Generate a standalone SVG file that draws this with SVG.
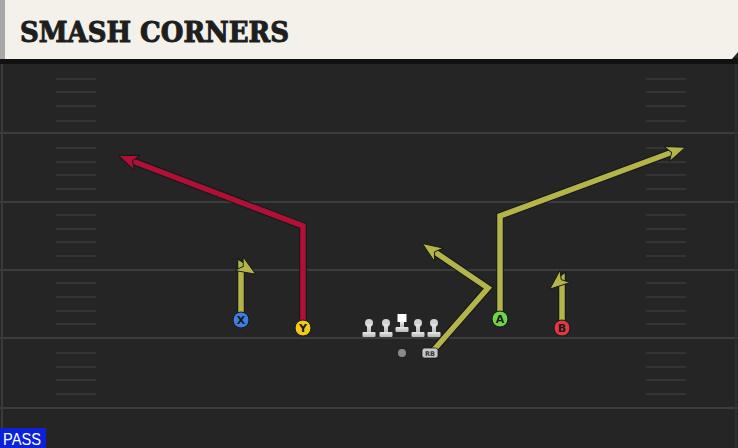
<svg xmlns="http://www.w3.org/2000/svg" width="738" height="448" viewBox="0 0 738 448">
<style>
.yl{stroke:#3c3c3c;stroke-width:2}
.hm{stroke:#343434;stroke-width:2}
.rt{fill:none;stroke-width:5.5;stroke-linejoin:miter;stroke-linecap:butt}
.ol{fill:none;stroke:#121818;stroke-width:7.5;stroke-linejoin:miter}
.olv{stroke:#b4b448}
.red{stroke:#b01035}
.lbl{font-family:"DejaVu Sans","Liberation Sans",sans-serif;font-weight:bold;font-size:11px;fill:#1a1a1a;text-anchor:middle}
.ln{fill:#d2d2d2}
</style>
<defs>
<marker id="ao" viewBox="0 0 10 10" refX="6" refY="5" markerWidth="20" markerHeight="20" orient="auto" markerUnits="userSpaceOnUse">
<path d="M0,1 L10,5 L0,9 L2.6,5 Z" fill="#b4b448" stroke="#121818" stroke-width="0.45" stroke-linejoin="miter"/>
</marker>
<marker id="ar" viewBox="0 0 10 10" refX="6" refY="5" markerWidth="20" markerHeight="20" orient="auto" markerUnits="userSpaceOnUse">
<path d="M0,1 L10,5 L0,9 L2.6,5 Z" fill="#b01035" stroke="#121818" stroke-width="0.45" stroke-linejoin="miter"/>
</marker>
<linearGradient id="lg" x1="0" y1="0" x2="0" y2="1">
<stop offset="0" stop-color="#e8e8e8"/><stop offset="1" stop-color="#b8b8b8"/>
</linearGradient>
</defs>
<rect x="0" y="0" width="738" height="448" fill="#252525"/>
<g id="field">
<line x1="0" y1="133" x2="738" y2="133" class="yl"/>
<line x1="0" y1="202" x2="738" y2="202" class="yl"/>
<line x1="0" y1="270" x2="738" y2="270" class="yl"/>
<line x1="0" y1="338" x2="738" y2="338" class="yl"/>
<line x1="0" y1="408" x2="738" y2="408" class="yl"/>
<line x1="2" y1="60" x2="2" y2="448" stroke="#3a3a3a" stroke-width="2"/>
<line x1="736" y1="60" x2="736" y2="448" stroke="#303030" stroke-width="2"/>
<g class="hm">
<line x1="56" y1="79" x2="96" y2="79"/><line x1="56" y1="92" x2="96" y2="92"/><line x1="56" y1="106" x2="96" y2="106"/><line x1="56" y1="121" x2="96" y2="121"/>
<line x1="56" y1="148" x2="96" y2="148"/><line x1="56" y1="162" x2="96" y2="162"/><line x1="56" y1="175" x2="96" y2="175"/><line x1="56" y1="189" x2="96" y2="189"/>
<line x1="56" y1="215" x2="96" y2="215"/><line x1="56" y1="229" x2="96" y2="229"/><line x1="56" y1="242" x2="96" y2="242"/><line x1="56" y1="256" x2="96" y2="256"/>
<line x1="56" y1="283" x2="96" y2="283"/><line x1="56" y1="297" x2="96" y2="297"/><line x1="56" y1="311" x2="96" y2="311"/><line x1="56" y1="324" x2="96" y2="324"/>
<line x1="56" y1="353" x2="96" y2="353"/><line x1="56" y1="367" x2="96" y2="367"/><line x1="56" y1="380" x2="96" y2="380"/><line x1="56" y1="394" x2="96" y2="394"/>
<line x1="646" y1="79" x2="686" y2="79"/><line x1="646" y1="92" x2="686" y2="92"/><line x1="646" y1="106" x2="686" y2="106"/><line x1="646" y1="121" x2="686" y2="121"/>
<line x1="646" y1="148" x2="686" y2="148"/><line x1="646" y1="162" x2="686" y2="162"/><line x1="646" y1="175" x2="686" y2="175"/><line x1="646" y1="189" x2="686" y2="189"/>
<line x1="646" y1="215" x2="686" y2="215"/><line x1="646" y1="229" x2="686" y2="229"/><line x1="646" y1="242" x2="686" y2="242"/><line x1="646" y1="256" x2="686" y2="256"/>
<line x1="646" y1="283" x2="686" y2="283"/><line x1="646" y1="297" x2="686" y2="297"/><line x1="646" y1="311" x2="686" y2="311"/><line x1="646" y1="324" x2="686" y2="324"/>
<line x1="646" y1="353" x2="686" y2="353"/><line x1="646" y1="367" x2="686" y2="367"/><line x1="646" y1="380" x2="686" y2="380"/><line x1="646" y1="394" x2="686" y2="394"/>
</g>
</g>
<g id="header">
<rect x="0" y="58" width="738" height="6" fill="#111111"/>
<path d="M0,0 L738,0 L738,52 L732,59 L0,59 Z" fill="#f4f1ea"/>
<rect x="0" y="0" width="5" height="59" fill="#a8a8a8"/>
<text x="20" y="42" font-family="'DejaVu Serif','Liberation Serif',serif" font-weight="bold" font-size="27" fill="#1e1e1e" stroke="#1e1e1e" stroke-width="1" textLength="269" lengthAdjust="spacingAndGlyphs">SMASH CORNERS</text>
</g>
<g id="connectors">
<path class="ol" d="M241,314 L241,265 L249,270"/>
<path class="rt olv" d="M241,314 L241,265 L249,270" marker-end="url(#ao)"/>
<path class="ol" d="M303,320 L303,226 L126,158.5"/>
<path class="rt red" d="M303,320 L303,226 L126,158.5" marker-end="url(#ar)"/>
<path class="ol" d="M500,313 L500,216 L678,150"/>
<path class="rt olv" d="M500,313 L500,216 L678,150" marker-end="url(#ao)"/>
<path class="ol" d="M562,321 L562,279 L556,284"/>
<path class="rt olv" d="M562,321 L562,279 L556,284" marker-end="url(#ao)"/>
<path class="ol" d="M432,352 L488,288 L429,248"/>
<path class="rt olv" d="M432,352 L488,288 L429,248" marker-end="url(#ao)"/>
</g>
<g id="X"><circle cx="241" cy="320" r="8" fill="#3d7fe0" stroke="#141a1a" stroke-width="1"/><text x="241" y="324" class="lbl">X</text></g>
<g id="Y"><circle cx="303" cy="328" r="8" fill="#f2c81a" stroke="#141a1a" stroke-width="1"/><text x="303" y="332" class="lbl">Y</text></g>
<g id="A"><circle cx="500" cy="319" r="8" fill="#6fd44a" stroke="#141a1a" stroke-width="1"/><text x="500" y="323" class="lbl">A</text></g>
<g id="B"><circle cx="562" cy="328" r="8" fill="#e23844" stroke="#141a1a" stroke-width="1"/><text x="562" y="332" class="lbl">B</text></g>
<g id="OL1"><circle cx="369" cy="323" r="4" class="ln"/><rect x="367" y="324" width="4" height="9" fill="url(#lg)"/><rect x="362.5" y="332" width="13" height="5" rx="1" fill="url(#lg)"/></g>
<g id="OL2"><circle cx="386" cy="323" r="4" class="ln"/><rect x="384" y="324" width="4" height="9" fill="url(#lg)"/><rect x="379.5" y="332" width="13" height="5" rx="1" fill="url(#lg)"/></g>
<g id="C"><rect x="397.5" y="314" width="9" height="8" fill="#ffffff"/><rect x="400" y="322" width="4" height="6" fill="url(#lg)"/><rect x="395.5" y="327" width="13" height="5" rx="1" fill="url(#lg)"/></g>
<g id="OL4"><circle cx="418" cy="323" r="4" class="ln"/><rect x="416" y="324" width="4" height="9" fill="url(#lg)"/><rect x="411.5" y="332" width="13" height="5" rx="1" fill="url(#lg)"/></g>
<g id="OL5"><circle cx="434" cy="323" r="4" class="ln"/><rect x="432" y="324" width="4" height="9" fill="url(#lg)"/><rect x="427.5" y="332" width="13" height="5" rx="1" fill="url(#lg)"/></g>
<g id="QB"><circle cx="402" cy="353" r="4" fill="#8a8a8a"/></g>
<g id="RB"><rect x="422" y="348" width="16" height="10" rx="2.5" fill="#c8c8c8" stroke="#141a1a" stroke-width="0.8"/><text x="430" y="356" font-family="'DejaVu Sans','Liberation Sans',sans-serif" font-size="6.5" font-weight="bold" fill="#333" text-anchor="middle">RB</text></g>
<g id="pass"><rect x="0" y="428" width="46" height="20" fill="#0b22d8"/><text x="3" y="445" font-family="'Liberation Sans',Arial,sans-serif" font-size="16" fill="#ffffff" textLength="38" lengthAdjust="spacingAndGlyphs">PASS</text></g>
</svg>
